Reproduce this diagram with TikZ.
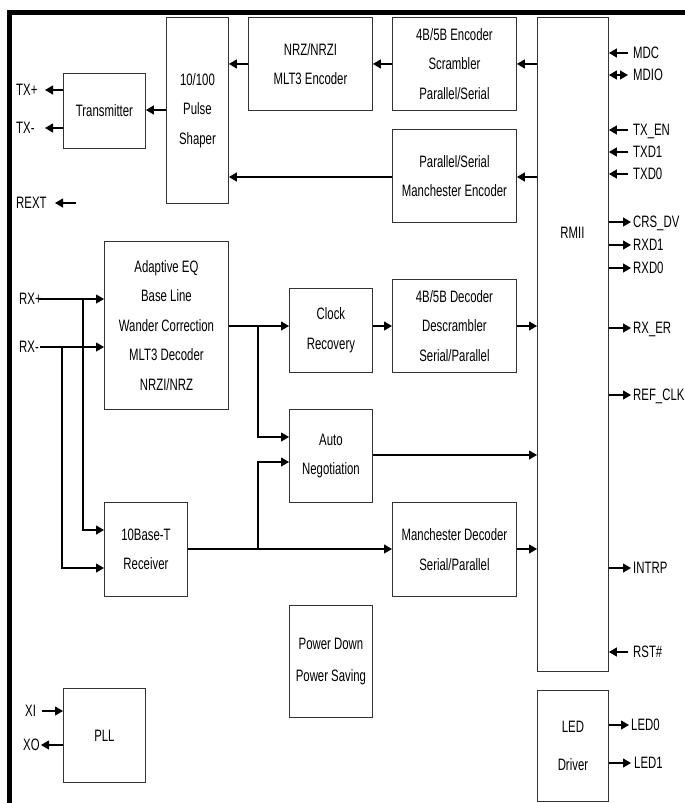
\documentclass[tikz,border=0pt]{standalone}
\usepackage{fontspec}
\setmainfont[FakeStretch=0.69]{Liberation Sans}
\usetikzlibrary{arrows.meta}
\begin{document}
\begin{tikzpicture}[x=1pt,y=-1pt,
  box/.style={draw=black!80, line width=0.9pt, anchor=north west, align=center, inner sep=0pt,
    font=\fontsize{16.5}{29.5}\selectfont},
  arr/.style={line width=1.1pt, -{Triangle[length=8pt,width=9pt]}},
  darr/.style={line width=1.1pt, {Triangle[length=8pt,width=9pt]}-{Triangle[length=8pt,width=9pt]}},
  ln/.style={line width=1.1pt},
  pin/.style={inner sep=0pt, text height=11.8pt, text depth=0pt, font=\fontsize{16.5}{18}\selectfont}]
\useasboundingbox (0,0) rectangle (685,803);
% frame (top and left only)
\draw[line width=4.5pt, line join=miter] (9.5,803) -- (9.5,12.5) -- (685,12.5);

% blocks
\node[box, minimum width=82pt, minimum height=75pt] (tx) at (63,73) {Transmitter};
\node[box, minimum width=62pt, minimum height=186pt] (ps) at (166,17) {10/100\\Pulse\\Shaper};
\node[box, minimum width=124pt, minimum height=93pt] (nrz) at (248,17) {NRZ/NRZI\\MLT3 Encoder};
\node[box, minimum width=124pt, minimum height=93pt] (enc) at (392,17) {4B/5B Encoder\\Scrambler\\Parallel/Serial};
\node[box, minimum width=124pt, minimum height=93pt] (menc) at (392,129) {Parallel/Serial\\Manchester Encoder};
\node[box, minimum width=71pt, minimum height=654pt] (rmii) at (537,17) {};
\node[pin] (rmiitxt) at (572.5,233) {RMII};
\node[box, minimum width=124pt, minimum height=168pt] (eq) at (104,241) {Adaptive EQ\\Base Line\\Wander Correction\\MLT3 Decoder\\NRZI/NRZ};
\node[box, minimum width=83pt, minimum height=84pt] (clk) at (289,288) {Clock\\Recovery};
\node[box, minimum width=124pt, minimum height=93pt] (dec) at (392,279) {4B/5B Decoder\\Descrambler\\Serial/Parallel};
\node[box, minimum width=83pt, minimum height=93pt] (an) at (289,409) {Auto\\Negotiation};
\node[box, minimum width=83pt, minimum height=94pt] (rx10) at (104,502) {10Base-T\\Receiver};
\node[box, minimum width=124pt, minimum height=94pt] (mdec) at (392,502) {Manchester Decoder\\Serial/Parallel};
\node[box, minimum width=83pt, minimum height=112pt] (pd) at (289,605) {Power Down\\[3pt]Power Saving};
\node[box, minimum width=82pt, minimum height=94pt] (pll) at (63,688) {PLL};
\node[box, minimum width=71pt, minimum height=111pt] (led) at (537,690) {LED\\[8pt]Driver};

% transmit path
\draw[arr] (rmii.west |- enc.west) -- (enc.east);
\draw[arr] (enc.west) -- (enc.west -| nrz.east);
\draw[arr] (nrz.west) -- (nrz.west -| ps.east);
\draw[arr] (rmii.west |- 0,177) -- (menc.east |- 0,177);
\draw[arr] (menc.west |- 0,177) -- (ps.east |- 0,177);
\draw[arr] (ps.west |- 0,110) -- (tx.east |- 0,110);

% left pins
\node[pin, anchor=west] (txpl) at (16,90) {TX+};
\coordinate (txpe) at (45,90);
\draw[arr] (tx.west |- txpe) -- (txpe);
\node[pin, anchor=west] (txml) at (16,128) {TX-};
\coordinate (txme) at (45,128);
\draw[arr] (tx.west |- txme) -- (txme);
\node[pin, anchor=west] (rextl) at (16,203) {REXT};
\coordinate (rexts) at (76,203);
\coordinate (rexte) at (55,203);
\draw[arr] (rexts) -- (rexte);

\node[pin, anchor=west] (rxpl) at (19,299) {RX+};
\coordinate (rxps) at (39,299);
\node[pin, anchor=west] (rxml) at (19,347) {RX-};
\coordinate (rxms) at (40,347);
\coordinate (jp) at (83,299);
\coordinate (jm) at (62,347);
\draw[arr] (rxps) -- (rxps -| eq.west);
\draw[arr] (rxms) -- (rxms -| eq.west);
\draw[arr] (jp) |- (rx10.west |- 0,530);
\draw[arr] (jm) |- (rx10.west |- 0,568);

% receive path
\coordinate (jc) at (258,326);
\coordinate (jr) at (258,549);
\draw[arr] (eq.east |- 0,326) -- (clk.west |- 0,326);
\draw[arr] (jc) |- (an.west |- 0,437);
\draw[arr] (clk.east |- 0,326) -- (dec.west |- 0,326);
\draw[arr] (dec.east |- 0,326) -- (rmii.west |- 0,326);
\draw[arr] (an.east |- 0,455) -- (rmii.west |- 0,455);
\draw[arr] (rx10.east |- 0,549) -- (mdec.west |- 0,549);
\draw[arr] (jr) |- (an.west |- 0,462);
\draw[arr] (mdec.east |- 0,549) -- (rmii.west |- 0,549);

% PLL pins
\node[pin, anchor=west] (xil) at (25,711) {XI};
\coordinate (xis) at (42,711);
\draw[arr] (xis) -- (xis -| pll.west);
\node[pin, anchor=west] (xol) at (23,745) {XO};
\coordinate (xoe) at (41,745);
\draw[arr] (pll.west |- xoe) -- (xoe);

% RMII right pins
\coordinate (mdc) at (628,53);   \node[pin, anchor=west] (mdcl) at (633,53) {MDC};
\draw[arr] (mdc) -- (mdc -| rmii.east);
\coordinate (mdio) at (628,75);  \node[pin, anchor=west] (mdiol) at (633,75) {MDIO};
\draw[darr] (mdio) -- (mdio -| rmii.east);
\coordinate (txen) at (628,130); \node[pin, anchor=west] (txenl) at (633,130) {TX\_EN};
\draw[arr] (txen) -- (txen -| rmii.east);
\coordinate (txd1) at (628,152); \node[pin, anchor=west] (txd1l) at (633,152) {TXD1};
\draw[arr] (txd1) -- (txd1 -| rmii.east);
\coordinate (txd0) at (628,174); \node[pin, anchor=west] (txd0l) at (633,174) {TXD0};
\draw[arr] (txd0) -- (txd0 -| rmii.east);
\coordinate (crs) at (631,222);  \node[pin, anchor=west] (crsl) at (633,222) {CRS\_DV};
\draw[arr] (rmii.east |- crs) -- (crs);
\coordinate (rxd1) at (631,245); \node[pin, anchor=west] (rxd1l) at (633,245) {RXD1};
\draw[arr] (rmii.east |- rxd1) -- (rxd1);
\coordinate (rxd0) at (631,268); \node[pin, anchor=west] (rxd0l) at (633,268) {RXD0};
\draw[arr] (rmii.east |- rxd0) -- (rxd0);
\coordinate (rxer) at (631,328); \node[pin, anchor=west] (rxerl) at (633,328) {RX\_ER};
\draw[arr] (rmii.east |- rxer) -- (rxer);
\coordinate (refclk) at (631,395); \node[pin, anchor=west] (refclkl) at (633,395) {REF\_CLK};
\draw[arr] (rmii.east |- refclk) -- (refclk);
\coordinate (intrp) at (631,568); \node[pin, anchor=west] (intrpl) at (633,568) {INTRP};
\draw[arr] (rmii.east |- intrp) -- (intrp);
\coordinate (rst) at (628,652);  \node[pin, anchor=west] (rstl) at (633,652) {RST\#};
\draw[arr] (rst) -- (rst -| rmii.east);

% LED pins
\coordinate (led0) at (629,725); \node[pin, anchor=west] (led0l) at (631,725) {LED0};
\draw[arr] (led.east |- led0) -- (led0);
\coordinate (led1) at (631,763); \node[pin, anchor=west] (led1l) at (634,763) {LED1};
\draw[arr] (led.east |- led1) -- (led1);
\end{tikzpicture}
\end{document}
